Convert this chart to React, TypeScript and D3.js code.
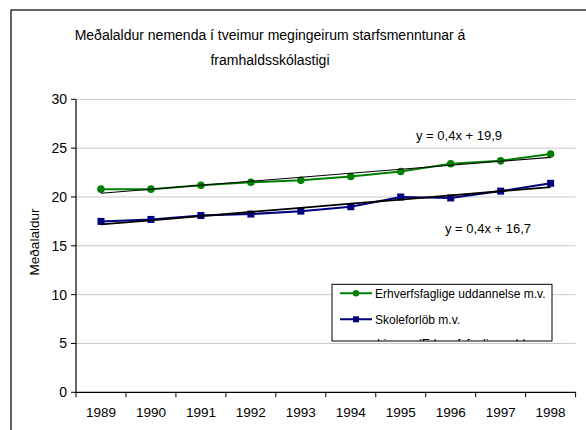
import React from "react";
import * as d3 from "d3";

const years = ["1989", "1990", "1991", "1992", "1993", "1994", "1995", "1996", "1997", "1998"];
const erhverv = [20.8, 20.8, 21.2, 21.5, 21.7, 22.1, 22.6, 23.4, 23.7, 24.4];
const skole = [17.5, 17.7, 18.1, 18.25, 18.55, 19.0, 20.0, 19.9, 20.6, 21.4];
const yTicks = [0, 5, 10, 15, 20, 25, 30];
const titleLines = ["Meðalaldur nemenda í tveimur megingeirum starfsmenntunar á", "framhaldsskólastigi"];
const yLabel = "Meðalaldur";
const seriesNames = ["Erhverfsfaglige uddannelse m.v.", "Skoleforlöb m.v.", "Lineær (Erhverfsfaglige uddannelse m.v.)"];
const eqLabels = ["y = 0,4x + 19,9", "y = 0,4x + 16,7"];

const FONT = "Arial, 'Liberation Sans', sans-serif";

function regression(vals: number[]) {
  const xs = vals.map((_, i) => i + 1);
  const mx = d3.mean(xs)!;
  const my = d3.mean(vals)!;
  let sxy = 0, sxx = 0;
  xs.forEach((x, i) => { sxy += (x - mx) * (vals[i] - my); sxx += (x - mx) * (x - mx); });
  const slope = sxy / sxx;
  const icpt = my - slope * mx;
  return xs.map((x) => slope * x + icpt);
}

export default function App() {
  const W = 586, H = 430;
  const left = 76, right = 575.6, top = 99.3, bottom = 392.3;
  const x = d3.scaleBand<string>().domain(years).range([left, right]).padding(0);
  const y = d3.scaleLinear().domain([0, 30]).range([bottom, top]);
  const cx = (yr: string) => x(yr)! + x.bandwidth() / 2;
  const line = d3.line<number>().x((_, i) => cx(years[i])).y((v) => y(v));
  const trendG = regression(erhverv);
  const trendB = regression(skole);
  const green = "#008000";
  const blue = "#000080";
  const lgX = 332, lgY = 284.3, lgW = 220, lgH = 56.7;
  return (
    <svg width={W} height={H} style={{ position: "absolute", left: 0, top: 0, background: "#fff" }} fontFamily={FONT}>
      <rect x={0} y={0} width={W} height={H} fill="#fff" />
      <rect x={11} y={10} width={700} height={600} fill="none" stroke="#000" strokeWidth={1.2} />
      {titleLines.map((t, i) => (
        <text key={i} x={270} y={40 + i * 25} textAnchor="middle" fontSize={14} fill="#000">{t}</text>
      ))}
      {yTicks.filter((t) => t > 0).map((t) => (
        <line key={t} x1={left} x2={right} y1={y(t)} y2={y(t)} stroke="#c8c8c8" strokeWidth={1} />
      ))}
      <line x1={left} x2={left} y1={top} y2={bottom} stroke="#000" strokeWidth={1.2} />
      <line x1={left} x2={right} y1={bottom} y2={bottom} stroke="#000" strokeWidth={1.2} />
      {yTicks.map((t) => (
        <g key={t}>
          <line x1={left - 5} x2={left} y1={y(t)} y2={y(t)} stroke="#000" />
          <text x={67} y={y(t) + 5} textAnchor="end" fontSize={14} fill="#000">{t}</text>
        </g>
      ))}
      {years.map((yr, i) => (
        <g key={yr}>
          <line x1={x(yr)!} x2={x(yr)!} y1={bottom} y2={bottom + 5} stroke="#000" />
          {i === years.length - 1 && (
            <line x1={x(yr)! + x.bandwidth()} x2={x(yr)! + x.bandwidth()} y1={bottom} y2={bottom + 5} stroke="#000" />
          )}
          <text x={cx(yr)} y={417} textAnchor="middle" fontSize={13.5} fill="#000">{yr}</text>
        </g>
      ))}
      <text transform={`translate(39,242) rotate(-90)`} textAnchor="middle" fontSize={13.5} fill="#000">{yLabel}</text>
      <path d={line(erhverv)!} fill="none" stroke={green} strokeWidth={2} />
      {erhverv.map((v, i) => (
        <circle key={i} cx={cx(years[i])} cy={y(v)} r={3.8} fill={green} />
      ))}
      <path d={line(skole)!} fill="none" stroke={blue} strokeWidth={2} />
      {skole.map((v, i) => (
        <rect key={i} x={cx(years[i]) - 3.5} y={y(v) - 3.5} width={7} height={7} fill={blue} />
      ))}
      <path d={line(trendG)!} fill="none" stroke="#000" strokeWidth={1.1} />
      <path d={line(trendB)!} fill="none" stroke="#000" strokeWidth={1.8} />
      <text x={416} y={140} fontSize={13} fill="#000">{eqLabels[0]}</text>
      <text x={445} y={233} fontSize={13} fill="#000">{eqLabels[1]}</text>
      <defs>
        <clipPath id="lgclip">
          <rect x={lgX} y={lgY} width={lgW} height={lgH} />
        </clipPath>
      </defs>
      <rect x={lgX} y={lgY} width={lgW} height={lgH} fill="#fff" stroke="#000" strokeWidth={1} />
      <g clipPath="url(#lgclip)">
        <line x1={340} x2={372} y1={293.3} y2={293.3} stroke={green} strokeWidth={2} />
        <circle cx={356} cy={293.3} r={3.2} fill={green} />
        <text x={375} y={297.5} fontSize={12} fill="#000">{seriesNames[0]}</text>
        <line x1={340} x2={372} y1={319.3} y2={319.3} stroke={blue} strokeWidth={2} />
        <rect x={353} y={316.3} width={6} height={6} fill={blue} />
        <text x={375} y={323.5} fontSize={12} fill="#000">{seriesNames[1]}</text>
        <line x1={340} x2={372} y1={345} y2={345} stroke="#000" strokeWidth={1} />
        <text x={377} y={348} fontSize={12} fill="#000">{seriesNames[2]}</text>
      </g>
    </svg>
  );
}
